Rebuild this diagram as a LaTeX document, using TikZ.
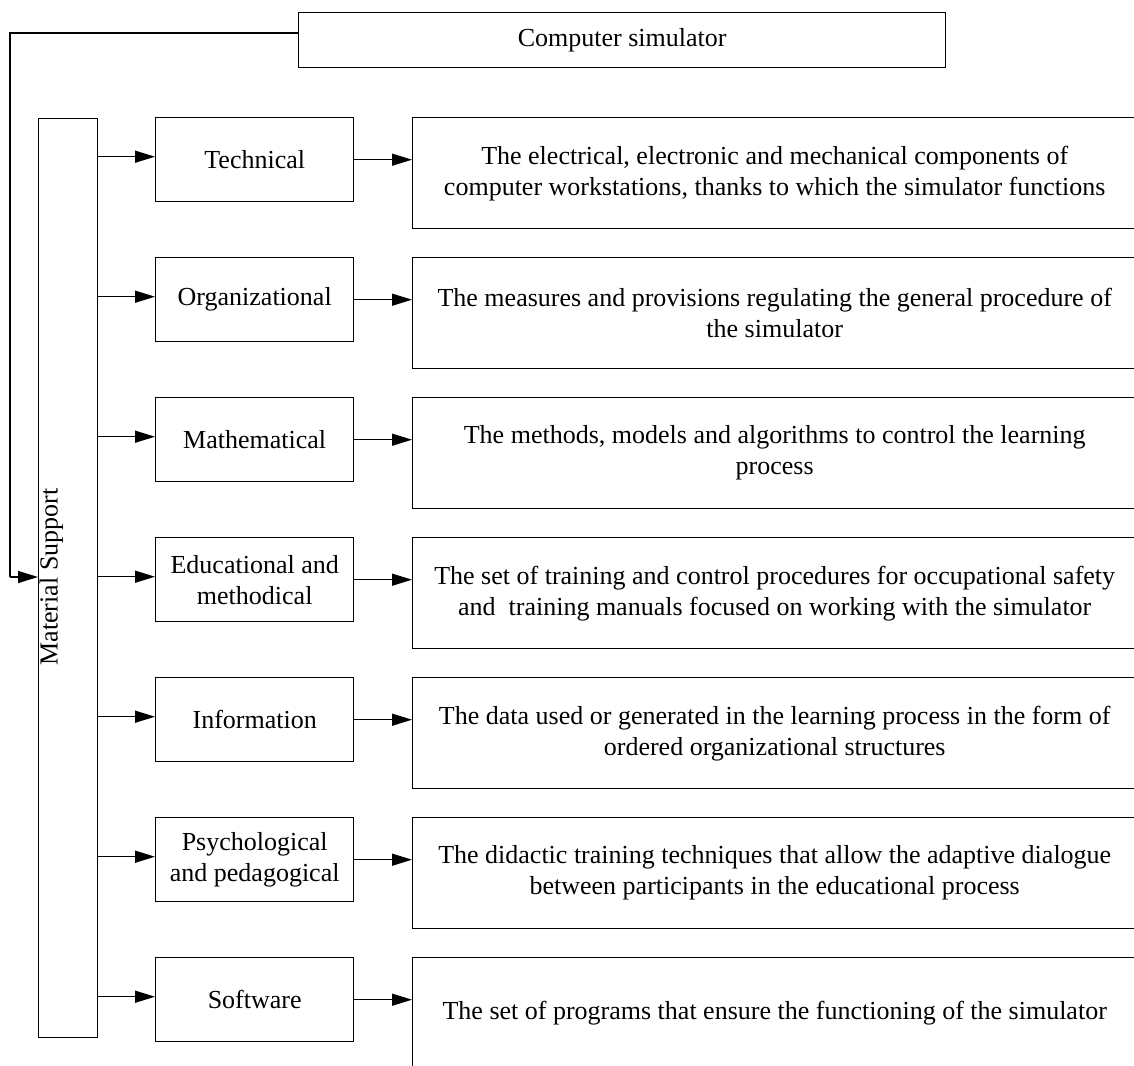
\documentclass[tikz,border=0pt]{standalone}
\usepackage{fontspec}
\setmainfont{Liberation Serif}
\usetikzlibrary{arrows.meta,calc}
\begin{document}
\begin{tikzpicture}[x=0.5pt,y=-0.5pt,
  every node/.style={font=\fontsize{13}{15.5}\selectfont},
  box/.style={draw,line width=0.7pt,inner sep=0pt,anchor=north west,align=center},
  midbox/.style={box,minimum width=99pt,minimum height=42pt},
  descbox/.style={box,minimum width=362pt,minimum height=55.5pt},
  arr/.style={line width=0.7pt,-{Triangle[length=10pt,width=6pt]}},
  conn/.style={line width=0.7pt}
]
\useasboundingbox (0,0) rectangle (1134,1065);
\clip (0,0) rectangle (1134,1065);

\node[box,minimum width=323.5pt,minimum height=27.5pt] (top) at (298,12) {Computer simulator};
\node[box,minimum width=29.5pt,minimum height=459.5pt] (ms) at (38,118) {};
\node[rotate=90,anchor=base,inner sep=0pt] (mslabel) at (57.5,577) {Material Support};

\node[midbox] (m1) at (155,117) {Technical};
\node[midbox] (m2) at (155,257) {Organizational};
\node[midbox] (m3) at (155,397) {Mathematical};
\node[midbox] (m4) at (155,537) {Educational and\\methodical};
\node[midbox] (m5) at (155,677) {Information};
\node[midbox] (m6) at (155,817) {Psychological\\and pedagogical};
\node[midbox] (m7) at (155,957) {Software};

\node[descbox] (r1) at (412,117) {The electrical, electronic and mechanical components of\\computer workstations, thanks to which the simulator functions};
\node[descbox] (r2) at (412,257) {The measures and provisions regulating the general procedure of\\the simulator};
\node[descbox] (r3) at (412,397) {The methods, models and algorithms to control the learning\\process};
\node[descbox] (r4) at (412,537) {The set of training and control procedures for occupational safety\\and\ \ training manuals focused on working with the simulator};
\node[descbox] (r5) at (412,677) {The data used or generated in the learning process in the form of\\ordered organizational structures};
\node[descbox] (r6) at (412,817) {The didactic training techniques that allow the adaptive dialogue\\between participants in the educational process};
\node[descbox] (r7) at (412,957) {The set of programs that ensure the functioning of the simulator};

\coordinate (c1) at (10,33);
\coordinate (c2) at (10,577);
\draw[conn] (top.west |- c1) -- (c1) -- (c2);
\draw[arr] (c2) -- (ms.west |- c2);

\foreach \i in {1,...,7}{
  \draw[arr] ($(ms.east |- m\i.west)+(0,-3)$) -- ($(m\i.west)+(0,-3)$);
  \draw[arr] (m\i.east) -- (r\i.west |- m\i.east);
}
\end{tikzpicture}
\end{document}
